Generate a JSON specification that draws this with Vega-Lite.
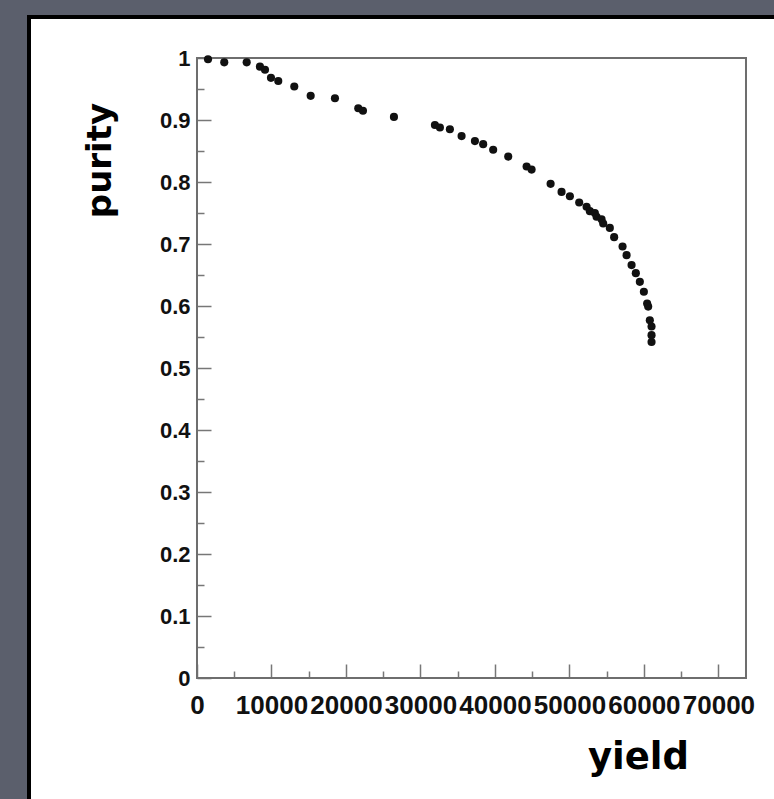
{
  "$schema": "https://vega.github.io/schema/vega-lite/v6.json",
  "width": 750,
  "height": 786,
  "autosize": {"type": "none"},
  "padding": {"left": 29, "top": 17, "right": 0, "bottom": 0},
  "background": "#5b5f6c",
  "config": {"view": {"fill": "white", "stroke": "black", "strokeWidth": 4}},
  "resolve": {"axis": {"x": "independent", "y": "independent"}},
  "layer": [
    {
      "data": {"values": [{"x0": 0, "x1": 73700, "y0": 0, "y1": 1}]},
      "mark": {"type": "rect", "fill": null, "fillOpacity": 0, "stroke": "#6e6e6e", "strokeWidth": 2},
      "encoding": {
        "x": {"field": "x0", "type": "quantitative",
          "scale": {"domain": [-22553, 78131], "nice": false, "zero": false},
          "axis": {"orient": "bottom", "offset": -125, "values": [5000, 15000, 25000, 35000, 45000, 55000, 65000], "tickSize": -7, "tickColor": "#777", "tickWidth": 1.5, "labels": false, "domain": false, "grid": false, "title": null}},
        "x2": {"field": "x1"},
        "y": {"field": "y0", "type": "quantitative",
          "scale": {"domain": [-0.20161, 1.06613], "nice": false, "zero": false},
          "axis": {"orient": "left", "offset": -168, "values": [0.05, 0.15, 0.25, 0.35, 0.45, 0.55, 0.65, 0.75, 0.85, 0.95], "tickSize": -7, "tickColor": "#777", "tickWidth": 1.5, "labels": false, "domain": false, "grid": false, "title": null}},
        "y2": {"field": "y1"}
      }
    },
    {
      "data": {"values": [
        {"yield": 1480, "purity": 0.998},
        {"yield": 3660, "purity": 0.993},
        {"yield": 6670, "purity": 0.993},
        {"yield": 8450, "purity": 0.986},
        {"yield": 9130, "purity": 0.981},
        {"yield": 9930, "purity": 0.968},
        {"yield": 10910, "purity": 0.963},
        {"yield": 13060, "purity": 0.954},
        {"yield": 15260, "purity": 0.939},
        {"yield": 18520, "purity": 0.935},
        {"yield": 21650, "purity": 0.919},
        {"yield": 22280, "purity": 0.915},
        {"yield": 26440, "purity": 0.905},
        {"yield": 31940, "purity": 0.892},
        {"yield": 32610, "purity": 0.888},
        {"yield": 33950, "purity": 0.885},
        {"yield": 35520, "purity": 0.874},
        {"yield": 37310, "purity": 0.866},
        {"yield": 38420, "purity": 0.861},
        {"yield": 39760, "purity": 0.852},
        {"yield": 41780, "purity": 0.841},
        {"yield": 44250, "purity": 0.825},
        {"yield": 44920, "purity": 0.82},
        {"yield": 47470, "purity": 0.797},
        {"yield": 48940, "purity": 0.784},
        {"yield": 50060, "purity": 0.777},
        {"yield": 51310, "purity": 0.767},
        {"yield": 52300, "purity": 0.76},
        {"yield": 52740, "purity": 0.753},
        {"yield": 53410, "purity": 0.75},
        {"yield": 53640, "purity": 0.744},
        {"yield": 54310, "purity": 0.74},
        {"yield": 54530, "purity": 0.733},
        {"yield": 55420, "purity": 0.726},
        {"yield": 56000, "purity": 0.711},
        {"yield": 57130, "purity": 0.696},
        {"yield": 57670, "purity": 0.682},
        {"yield": 58340, "purity": 0.666},
        {"yield": 58910, "purity": 0.653},
        {"yield": 59450, "purity": 0.639},
        {"yield": 59990, "purity": 0.623},
        {"yield": 60430, "purity": 0.604},
        {"yield": 60570, "purity": 0.599},
        {"yield": 60790, "purity": 0.577},
        {"yield": 61020, "purity": 0.567},
        {"yield": 61020, "purity": 0.553},
        {"yield": 61020, "purity": 0.542}
      ]},
      "mark": {"type": "circle", "size": 66, "color": "#111", "opacity": 1},
      "encoding": {
        "x": {"field": "yield", "type": "quantitative",
          "scale": {"domain": [-22553, 78131], "nice": false, "zero": false},
          "axis": {"orient": "bottom", "offset": -125, "values": [0, 10000, 20000, 30000, 40000, 50000, 60000, 70000], "format": "d", "tickSize": -14, "tickColor": "#777", "tickWidth": 1.5, "domain": false, "grid": false,
            "labelFont": "Liberation Sans", "labelFontWeight": "bold", "labelFontSize": 26, "labelColor": "#111", "labelPadding": 28, "labelFlush": false, "labelOverlap": false,
            "title": "yield", "titleFont": "DejaVu Sans", "titleFontWeight": "bold", "titleFontSize": 37, "titleColor": "#000", "titleX": 609, "titleY": 79, "titleAlign": "center", "titleBaseline": "middle", "titleAnchor": null}},
        "y": {"field": "purity", "type": "quantitative",
          "scale": {"domain": [-0.20161, 1.06613], "nice": false, "zero": false},
          "axis": {"orient": "left", "offset": -168, "values": [0, 0.1, 0.2, 0.3, 0.4, 0.5, 0.6, 0.7, 0.8, 0.9, 1], "labelExpr": "datum.value == 0 ? '0' : datum.value == 1 ? '1' : format(datum.value, '.1f')", "tickSize": -14, "tickColor": "#777", "tickWidth": 1.5, "domain": false, "grid": false,
            "labelFont": "Liberation Sans", "labelFontWeight": "bold", "labelFontSize": 22, "labelColor": "#111", "labelPadding": 21, "labelFlush": false, "labelOverlap": false,
            "title": "purity", "titleFont": "DejaVu Sans", "titleFontWeight": "bold", "titleFontSize": 34, "titleColor": "#000", "titleX": -97, "titleY": 143, "titleAngle": -90, "titleAlign": "center", "titleBaseline": "middle", "titleAnchor": null}}
      }
    }
  ]
}
